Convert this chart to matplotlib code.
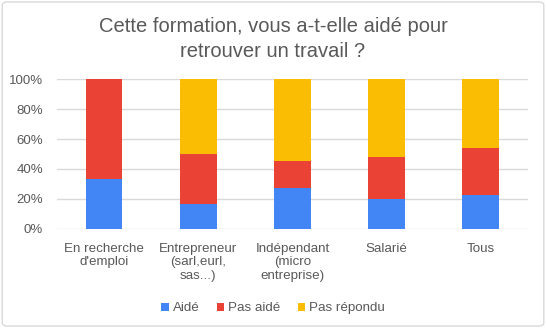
import matplotlib
matplotlib.use('Agg')
import matplotlib.pyplot as plt
from matplotlib.patches import FancyBboxPatch
from matplotlib.ticker import PercentFormatter
import numpy as np

plt.rcParams['font.family'] = ['Liberation Sans', 'DejaVu Sans']

categories = ["En recherche\nd'emploi", "Entrepreneur\n(sarl,eurl,\nsas...)",
              "Indépendant\n(micro\nentreprise)", "Salarié", "Tous"]
aide = [33.3, 16.7, 27.3, 20.0, 22.2]
pas_aide = [66.7, 33.3, 18.2, 28.0, 31.8]
pas_repondu = [0.0, 50.0, 54.5, 52.0, 46.0]

series_names = ['Aidé', 'Pas aidé', 'Pas répondu']
colors = ['#4285f4', '#ea4335', '#fbbc04']
grey = '#595959'

fig = plt.figure(figsize=(5.46, 3.28), dpi=100)
ax = fig.add_axes([0.104, 0.303, 0.863, 0.455])

x = np.arange(len(categories))
bottom = np.zeros(len(categories))
for vals, name, c in zip([aide, pas_aide, pas_repondu], series_names, colors):
    ax.bar(x, vals, 0.39, bottom=bottom, color=c, label=name, zorder=3)
    bottom += np.array(vals)

ax.set_ylim(0, 100)
ax.set_xlim(-0.5, len(categories) - 0.5)
ax.set_yticks(range(0, 101, 20))
ax.yaxis.set_major_formatter(PercentFormatter(decimals=0))
ax.set_xticks(x)
ax.set_xticklabels(categories, fontsize=9.6, color=grey, linespacing=1.2)
ax.tick_params(axis='y', labelsize=9.5, labelcolor=grey, length=0, pad=10)
ax.tick_params(axis='x', length=0, pad=10)
ax.grid(axis='y', color='#d9d9d9', linewidth=1, zorder=0)
for s in ax.spines.values():
    s.set_visible(False)

fig.suptitle("Cette formation, vous a-t-elle aidé pour\nretrouver un travail ?",
             x=0.5, y=0.948, fontsize=14.5, color=grey, linespacing=1.4)

fig.legend(loc='center', bbox_to_anchor=(0.5, 0.06), ncol=3, frameon=False,
           fontsize=9.6, handlelength=0.55, handleheight=0.55, handletextpad=0.3,
           columnspacing=1.3, labelcolor=grey)

fig.patches.append(FancyBboxPatch((0.004, 0.006), 0.992, 0.988,
                                  boxstyle='round,pad=0,rounding_size=0.01',
                                  transform=fig.transFigure, fill=False,
                                  edgecolor='#d9d9d9', linewidth=1))

fig.savefig('out.png', dpi=100)
